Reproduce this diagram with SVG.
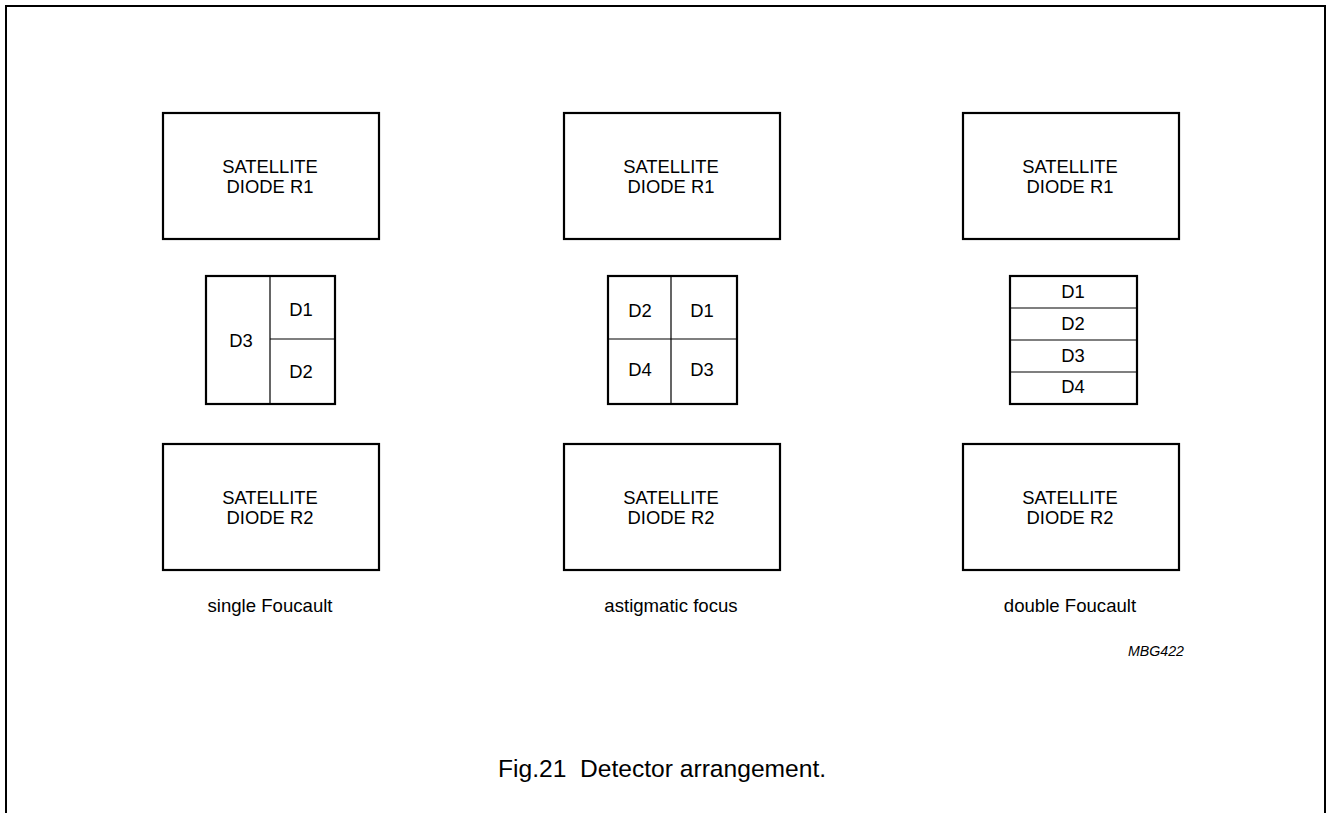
<svg xmlns="http://www.w3.org/2000/svg" width="1327" height="813" viewBox="0 0 1327 813">
<style>
.frame{fill:none;stroke:#000;stroke-width:2}
.box{fill:#fff;stroke:#000;stroke-width:2.2}
.div{stroke:#000;stroke-width:1.2;fill:none}
text{font-family:"Liberation Sans",Arial,sans-serif;fill:#000;text-anchor:middle}
.t{font-size:18.4px}
.l{font-size:18.6px}
.m{font-size:14.2px;font-style:italic}
.c{font-size:24.6px;text-anchor:start;white-space:pre}
</style>
<rect width="1327" height="813" fill="#fff"/>
<path class="frame" d="M6,813 V6 H1325 V813"/>
<g id="col1-r1"><rect class="box" x="163" y="113" width="216" height="126"/><text class="t" x="270" y="173">SATELLITE</text><text class="t" x="270" y="193">DIODE R1</text></g>
<g id="col2-r1"><rect class="box" x="564" y="113" width="216" height="126"/><text class="t" x="671" y="173">SATELLITE</text><text class="t" x="671" y="193">DIODE R1</text></g>
<g id="col3-r1"><rect class="box" x="963" y="113" width="216" height="126"/><text class="t" x="1070" y="173">SATELLITE</text><text class="t" x="1070" y="193">DIODE R1</text></g>
<g id="col1-r2"><rect class="box" x="163" y="444" width="216" height="126"/><text class="t" x="270" y="504">SATELLITE</text><text class="t" x="270" y="524">DIODE R2</text></g>
<g id="col2-r2"><rect class="box" x="564" y="444" width="216" height="126"/><text class="t" x="671" y="504">SATELLITE</text><text class="t" x="671" y="524">DIODE R2</text></g>
<g id="col3-r2"><rect class="box" x="963" y="444" width="216" height="126"/><text class="t" x="1070" y="504">SATELLITE</text><text class="t" x="1070" y="524">DIODE R2</text></g>
<g id="det1"><rect class="box" x="206" y="276" width="129" height="128"/><path class="div" d="M270,276 V404 M270,339 H335"/><text class="t" x="241" y="347">D3</text><text class="t" x="301" y="316">D1</text><text class="t" x="301" y="378">D2</text></g>
<g id="det2"><rect class="box" x="608" y="276" width="129" height="128"/><path class="div" d="M671,276 V404 M608,339 H737"/><text class="t" x="640" y="317">D2</text><text class="t" x="702" y="317">D1</text><text class="t" x="640" y="376">D4</text><text class="t" x="702" y="376">D3</text></g>
<g id="det3"><rect class="box" x="1010" y="276" width="127" height="128"/><path class="div" d="M1010,308 H1137 M1010,340 H1137 M1010,372 H1137"/><text class="t" x="1073" y="298">D1</text><text class="t" x="1073" y="330">D2</text><text class="t" x="1073" y="362">D3</text><text class="t" x="1073" y="393">D4</text></g>
<g id="labels"><text class="l" x="270" y="612">single Foucault</text><text class="l" x="671" y="612">astigmatic focus</text><text class="l" x="1070" y="612">double Foucault</text><text class="m" x="1156" y="656">MBG422</text><text class="c" x="498" y="777">Fig.21  Detector arrangement.</text></g>
<g id="connectors"/>
</svg>
